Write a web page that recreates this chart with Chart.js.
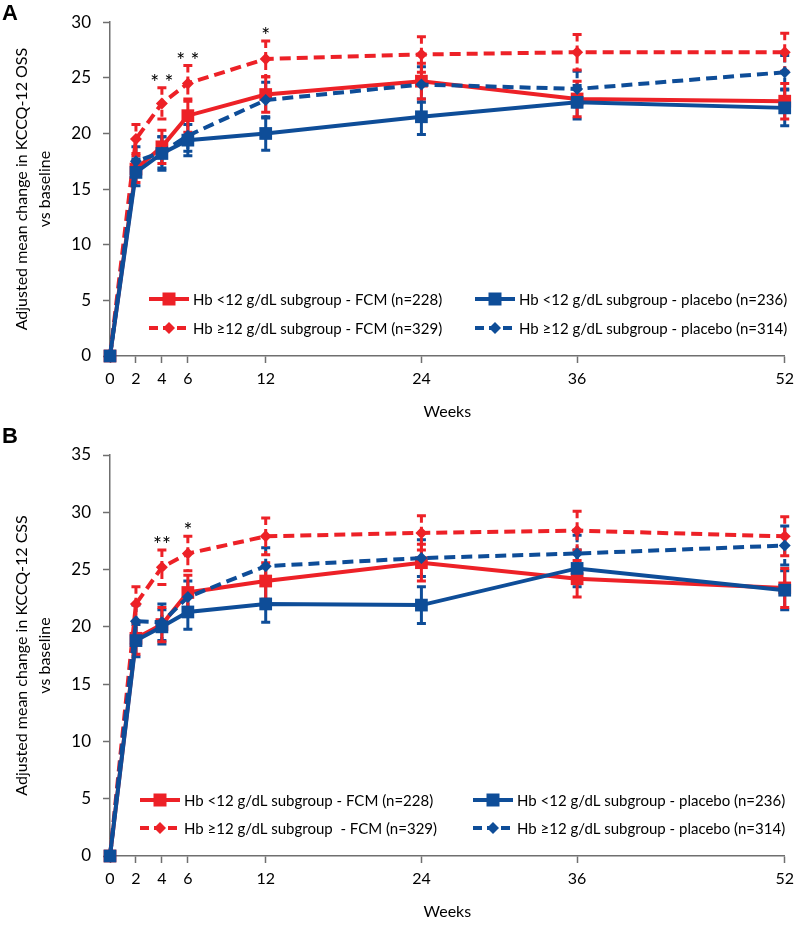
<!DOCTYPE html>
<html>
<head>
<meta charset="utf-8">
<script src="https://cdn.jsdelivr.net/npm/chart.js@4/dist/chart.umd.min.js"></script>
<style>
    body { margin: 0; background: #fff; }
    #wrap { position: relative; width: 800px; height: 925px; font-family: Lato, sans-serif; }
    .panel { position: absolute; left: 0; width: 800px; }
    .tag { position: absolute; left: 2px; font: bold 22px Arial, "Liberation Sans", sans-serif; line-height: 22px; color: #000; }
</style>
</head>
<body>
<div id="wrap">
    <div class="panel" style="top:0;height:425px"><canvas id="chartA"></canvas></div>
    <div class="panel" style="top:425px;height:500px"><canvas id="chartB"></canvas></div>
    <div class="tag" style="top:2px">A</div>
    <div class="tag" style="top:425px">B</div>
</div>
<script>
// weeks and axis ticks
const weeks = [0, 2, 4, 6, 12, 24, 36, 52];
const weekTicks = [0, 2, 4, 6, 12, 24, 36, 52];

// panel A - KCCQ-12 OSS
const ossLowFcm = [0, 16.8, 18.8, 21.6, 23.5, 24.7, 23.1, 22.9];
const ossLowFcmErr = [0, 1.2, 1.5, 1.5, 1.6, 1.6, 1.6, 1.6];
const ossHighFcm = [0, 19.5, 22.7, 24.5, 26.7, 27.1, 27.3, 27.3];
const ossHighFcmErr = [0, 1.3, 1.4, 1.6, 1.6, 1.6, 1.6, 1.7];
const ossLowPbo = [0, 16.5, 18.2, 19.4, 20.0, 21.5, 22.8, 22.3];
const ossLowPboErr = [0, 1.2, 1.5, 1.4, 1.5, 1.6, 1.5, 1.6];
const ossHighPbo = [0, 17.5, 18.3, 19.8, 23.0, 24.4, 24.0, 25.5];
const ossHighPboErr = [0, 1.3, 1.4, 1.4, 1.6, 1.6, 1.6, 1.5];
const ossSig = ['', '', '* *', '* *', '*', '', '', ''];

// panel B - KCCQ-12 CSS
const cssLowFcm = [0, 19.0, 20.2, 23.0, 24.0, 25.6, 24.2, 23.4];
const cssLowFcmErr = [0, 1.4, 1.5, 1.5, 1.6, 1.6, 1.6, 1.7];
const cssHighFcm = [0, 22.0, 25.2, 26.4, 27.9, 28.2, 28.4, 27.9];
const cssHighFcmErr = [0, 1.5, 1.5, 1.5, 1.6, 1.5, 1.7, 1.7];
const cssLowPbo = [0, 18.8, 20.0, 21.3, 22.0, 21.9, 25.1, 23.2];
const cssLowPboErr = [0, 1.4, 1.5, 1.5, 1.6, 1.6, 1.6, 1.7];
const cssHighPbo = [0, 20.5, 20.4, 22.6, 25.3, 26.0, 26.4, 27.1];
const cssHighPboErr = [0, 1.4, 1.6, 1.4, 1.6, 1.6, 1.6, 1.7];
const cssSig = ['', '', '**', '*', '', '', '', ''];

const RED = '#ED2127';
const BLUE = '#0E4D98';
const AXIS = '#6F6F6F';
const DASH = [11, 6];
const FONT = 'Lato, "Open Sans", sans-serif';

function series(label, values, errors, color, dashed) {
    return {
        label: label,
        data: weeks.map((w, i) => ({ x: w, y: values[i] })),
        errors: errors,
        borderColor: color,
        backgroundColor: color,
        borderWidth: 4,
        borderDash: dashed ? DASH : [],
        pointStyle: dashed ? 'rectRot' : 'rect',
        pointRadius: dashed ? 6 : 9,
        pointBorderWidth: 0,
        pointBackgroundColor: color,
        tension: 0,
        clip: false,
        dashed: dashed
    };
}

// error bars + significance stars, drawn through the scales
const extrasPlugin = {
    id: 'extras',
    beforeDatasetsDraw(chart) {
        let ctx = chart.ctx;
        let xs = chart.scales.x, ys = chart.scales.y;
        chart.data.datasets.forEach(ds => {
            ctx.save();
            ctx.strokeStyle = ds.borderColor;
            ctx.lineWidth = 3;
            ds.data.forEach((p, i) => {
                let e = ds.errors[i];
                if (!e) return;
                let x = xs.getPixelForValue(p.x);
                let y1 = ys.getPixelForValue(p.y + e);
                let y2 = ys.getPixelForValue(p.y - e);
                ctx.setLineDash(ds.dashed ? [7, 4] : []);
                ctx.beginPath();
                ctx.moveTo(x, y1);
                ctx.lineTo(x, y2);
                ctx.stroke();
                ctx.setLineDash([]);
                ctx.beginPath();
                ctx.moveTo(x - 4.5, y1); ctx.lineTo(x + 4.5, y1);
                ctx.moveTo(x - 4.5, y2); ctx.lineTo(x + 4.5, y2);
                ctx.stroke();
            });
            ctx.restore();
        });
    },
    afterDatasetsDraw(chart) {
        let ctx = chart.ctx;
        let xs = chart.scales.x, ys = chart.scales.y;
        let sig = chart.options.plugins.extras.sig;
        ctx.save();
        ctx.fillStyle = '#000';
        ctx.font = '21px ' + FONT;
        ctx.textAlign = 'center';
        ctx.textBaseline = 'alphabetic';
        sig.forEach((s, i) => {
            if (!s) return;
            let top = Math.max(...chart.data.datasets.map(ds => ds.data[i].y + ds.errors[i]));
            let x = xs.getPixelForValue(weeks[i]);
            let y = ys.getPixelForValue(top);
            ctx.fillText(s, x, y + 2);
        });
        ctx.restore();
    }
};

// legend inside the plot area, two columns
const legendPlugin = {
    id: 'boxLegend',
    afterDraw(chart) {
        let o = chart.options.plugins.boxLegend;
        let ctx = chart.ctx;
        ctx.save();
        ctx.font = '15px ' + FONT;
        ctx.textBaseline = 'middle';
        ctx.textAlign = 'left';
        o.items.forEach(it => {
            let ds = chart.data.datasets[it.index];
            let x = it.x, y = it.y;
            ctx.strokeStyle = ds.borderColor;
            ctx.lineWidth = 4;
            ctx.setLineDash(ds.dashed ? [9, 5] : []);
            ctx.beginPath();
            ctx.moveTo(x, y);
            ctx.lineTo(x + 40, y);
            ctx.stroke();
            ctx.setLineDash([]);
            ctx.fillStyle = ds.borderColor;
            ctx.beginPath();
            if (ds.dashed) {
                ctx.moveTo(x + 20, y - 6); ctx.lineTo(x + 26, y);
                ctx.lineTo(x + 20, y + 6); ctx.lineTo(x + 14, y);
            } else {
                ctx.rect(x + 13.5, y - 6.5, 13, 13);
            }
            ctx.fill();
            ctx.fillStyle = '#000';
            ctx.fillText(ds.label, x + 44, y + 1);
        });
        ctx.restore();
    }
};

function makeChart(id, sets, yMax, yTitle, sig, legendRows, colX) {
    let ctx = document.getElementById(id);
    let top = id === 'chartA' ? 12 : 30;
    return new Chart(ctx, {
        type: 'line',
        data: { datasets: sets },
        options: {
            responsive: true,
            maintainAspectRatio: false,
            animation: false,
            layout: { padding: { left: 0, right: 10, top: top, bottom: 0 } },
            scales: {
                x: {
                    type: 'linear',
                    min: 0,
                    max: 52,
                    afterBuildTicks: axis => { axis.ticks = weekTicks.map(v => ({ value: v })); },
                    afterFit: scale => { scale.height = 69; },
                    border: { color: AXIS, width: 1.5 },
                    grid: { drawOnChartArea: false, drawTicks: true, tickLength: 7, color: AXIS, tickWidth: 1.5 },
                    ticks: { color: '#000', font: { family: FONT, size: 16 }, padding: 6, maxRotation: 0, autoSkip: false },
                    title: { display: true, text: 'Weeks', color: '#000', font: { family: FONT, size: 16 }, padding: { top: 10 } }
                },
                y: {
                    min: 0,
                    max: yMax,
                    afterFit: scale => { scale.width = 110; },
                    border: { color: AXIS, width: 1.5 },
                    grid: { drawOnChartArea: false, drawTicks: true, tickLength: 7, color: AXIS, tickWidth: 1.5 },
                    ticks: { stepSize: 5, color: '#000', font: { family: FONT, size: 17 }, padding: 12 },
                    title: {
                        display: true, text: yTitle, color: '#000',
                        font: { family: FONT, size: 16, lineHeight: 1.45 },
                        padding: { top: 10, bottom: 0 }
                    }
                }
            },
            plugins: {
                legend: { display: false },
                tooltip: { enabled: false },
                extras: { sig: sig },
                boxLegend: {
                    items: [
                        { index: 2, x: colX[0], y: legendRows[0] },
                        { index: 3, x: colX[0], y: legendRows[1] },
                        { index: 0, x: colX[1], y: legendRows[0] },
                        { index: 1, x: colX[1], y: legendRows[1] }
                    ]
                }
            }
        },
        plugins: [extrasPlugin, legendPlugin]
    });
}

// blue series listed first so they sit on top
let setsA = [
    series('Hb <12 g/dL subgroup - placebo (n=236)', ossLowPbo, ossLowPboErr, BLUE, false),
    series('Hb \u226512 g/dL subgroup - placebo (n=314)', ossHighPbo, ossHighPboErr, BLUE, true),
    series('Hb <12 g/dL subgroup - FCM (n=228)', ossLowFcm, ossLowFcmErr, RED, false),
    series('Hb \u226512 g/dL subgroup - FCM (n=329)', ossHighFcm, ossHighFcmErr, RED, true)
];
let setsB = [
    series('Hb <12 g/dL subgroup - placebo (n=236)', cssLowPbo, cssLowPboErr, BLUE, false),
    series('Hb \u226512 g/dL subgroup - placebo (n=314)', cssHighPbo, cssHighPboErr, BLUE, true),
    series('Hb <12 g/dL subgroup - FCM (n=228)', cssLowFcm, cssLowFcmErr, RED, false),
    series('Hb \u226512 g/dL subgroup  - FCM (n=329)', cssHighFcm, cssHighFcmErr, RED, true)
];

makeChart('chartA', setsA, 30, ['Adjusted mean change in KCCQ-12 OSS', 'vs baseline'], ossSig, [299, 328], [149, 475]);
makeChart('chartB', setsB, 35, ['Adjusted mean change in KCCQ-12 CSS', 'vs baseline'], cssSig, [375, 403], [140, 473]);
</script>
</body>
</html>
